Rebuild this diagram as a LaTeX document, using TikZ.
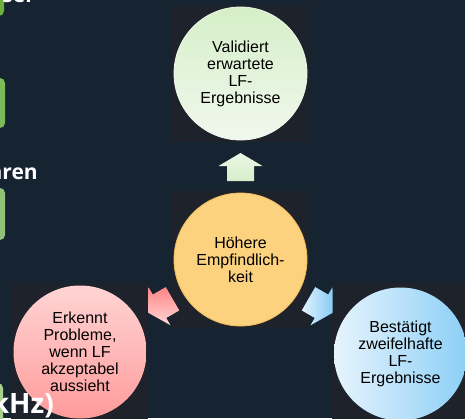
\documentclass[tikz,border=0pt]{standalone}
\usepackage{fontspec}
\setmainfont{Liberation Sans}
\newfontfamily\slidefont{Open Sans}

\definecolor{pagebg}{RGB}{22,35,48}
\definecolor{panelbg}{RGB}{29,34,43}
\definecolor{barA}{RGB}{108,176,64}
\definecolor{barB}{RGB}{122,186,88}
\definecolor{barC}{RGB}{144,194,122}
\definecolor{barD}{RGB}{166,208,140}
\definecolor{greenTop}{RGB}{213,239,200}
\definecolor{greenBot}{RGB}{241,248,238}
\definecolor{coreFill}{RGB}{253,210,126}
\definecolor{coreEdge}{RGB}{236,188,96}
\definecolor{pinkTop}{RGB}{255,212,212}
\definecolor{pinkBot}{RGB}{255,155,155}
\definecolor{blueLeft}{RGB}{230,244,253}
\definecolor{blueRight}{RGB}{141,207,247}

\begin{document}
\begin{tikzpicture}[x=1pt,y=-1pt,
  panel/.style={fill=panelbg, draw=none, minimum size=137pt, inner sep=0pt, rectangle},
  bubble/.style={circle, minimum size=133pt, inner sep=0pt, align=center,
    font=\fontsize{16}{17}\selectfont, text=black},
  sidebar/.style={rounded corners=5pt},
  fragment/.style={text=white, inner sep=0pt, anchor=base east}
]
\useasboundingbox (0,0) rectangle (465,418);
\clip (0,0) rectangle (465,418);
\fill[pagebg] (0,0) rectangle (465,418);

% green bars peeking in from the left edge
\fill[barA, sidebar] (-20,-20) rectangle (4,16);
\fill[barB, sidebar] (-20,78) rectangle (5,128);
\fill[barC, sidebar] (-20,188) rectangle (5,240);
\fill[barD, sidebar] (-20,383) rectangle (3,440);

% square panels behind the circles
\node[panel] (ptop)   at (240.5,73.5) {};
\node[panel] (pcore)  at (240.5,259) {};
\node[panel] (pleft)  at (79.5,351.5) {};
\node[panel] (pright) at (400.5,351.5) {};

% circles
\node[bubble, top color=greenTop, bottom color=greenBot, draw=greenBot, line width=0.8pt]
  (valid) at (240.5,73.5) {Validiert\\erwartete\\LF-\\Ergebnisse};
\node[bubble, fill=coreFill, draw=coreEdge, line width=0.8pt]
  (core) at (240.5,259.5) {Höhere\\Empfindlich-\\keit};
\node[bubble, top color=pinkTop, bottom color=pinkBot]
  (problem) at (80,352) {Erkennt\\Probleme,\\wenn LF\\akzeptabel\\aussieht};
\node[bubble, left color=blueLeft, right color=blueRight]
  (confirm) at (400.5,354) {Bestätigt\\zweifelhafte\\LF-\\Ergebnisse};

% block arrows radiating from the central circle
\begin{scope}[shift={(core.center)}, rotate=90]
  \shade[top color={rgb,255:red,234;green,247;blue,228}, bottom color={rgb,255:red,214;green,238;blue,203}]
    (78.5,-13.5) -- (93.5,-13.5) -- (93.5,-22) -- (106.5,0) -- (93.5,22) -- (93.5,13.5) -- (78.5,13.5) -- cycle;
\end{scope}
\begin{scope}[shift={(core.center)}, rotate=210]
  \shade[top color={rgb,255:red,255;green,133;blue,133}, bottom color={rgb,255:red,255;green,214;blue,214}]
    (78.5,-13.5) -- (93.5,-13.5) -- (93.5,-22) -- (106.5,0) -- (93.5,22) -- (93.5,13.5) -- (78.5,13.5) -- cycle;
\end{scope}
\begin{scope}[shift={(core.center)}, rotate=-30]
  \shade[left color={rgb,255:red,226;green,243;blue,254}, right color={rgb,255:red,136;green,203;blue,246}]
    (78.5,-13.5) -- (93.5,-13.5) -- (93.5,-22) -- (106.5,0) -- (93.5,22) -- (93.5,13.5) -- (78.5,13.5) -- cycle;
\end{scope}

% white heading fragments at the left edge, in front of everything
\node[fragment, font=\slidefont\bfseries\fontsize{21}{21}\selectfont] (frag1) at (35,2.5) {ser};
\node[fragment, font=\slidefont\bfseries\fontsize{21}{21}\selectfont] (frag2) at (38,179) {hren};
\node[fragment, font=\slidefont\bfseries\fontsize{28}{28}\selectfont] (frag3) at (54,413) {kHz)};
\end{tikzpicture}
\end{document}
